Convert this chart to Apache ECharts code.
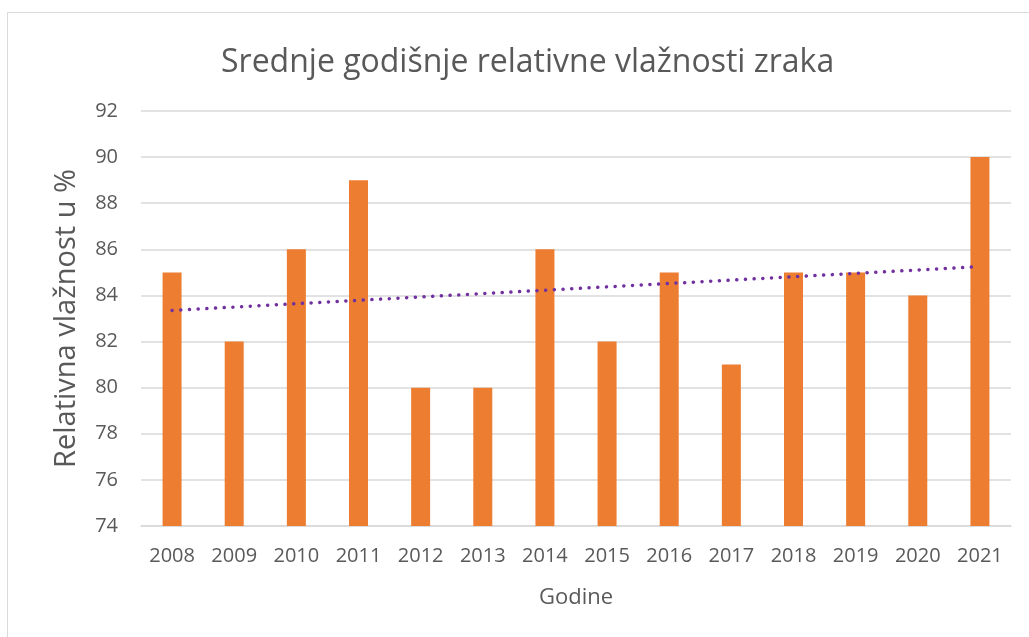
<!DOCTYPE html>
<html>
<head>
<meta charset="utf-8">
<script src="https://cdn.jsdelivr.net/npm/echarts@6/dist/echarts.min.js"></script>
<style>
  html, body { margin: 0; padding: 0; background: #fff; }
  #main { width: 1029px; height: 637px; }
</style>
</head>
<body>
<div id="main"></div>
<script>
// godine i vrijednosti
var years = ['2008', '2009', '2010', '2011', '2012', '2013', '2014', '2015', '2016', '2017', '2018', '2019', '2020', '2021'];
var humidity = [85, 82, 86, 89, 80, 80, 86, 82, 85, 81, 85, 85, 84, 90];
// linija trenda, ocitano sa slike (samo krajnje tocke)
var trend = [83.35, null, null, null, null, null, null, null, null, null, null, null, null, 85.25];

var chart = echarts.init(document.getElementById('main'));

var option = {
  textStyle: { fontFamily: 'Open Sans' },
  graphic: [{
    type: 'rect',
    shape: { x: 7.5, y: 12.5, width: 1040, height: 640 },
    style: { fill: 'none', stroke: '#d9d9d9', lineWidth: 1 },
    silent: true
  }],
  title: {
    text: 'Srednje godišnje relativne vlažnosti zraka',
    left: 216,
    top: 42,
    textStyle: { color: '#595959', fontSize: 32, fontWeight: 'normal', fontFamily: 'Open Sans' }
  },
  grid: { left: 141, right: 18, top: 111, bottom: 111 },
  xAxis: {
    type: 'category',
    data: years,
    name: 'Godine',
    nameLocation: 'middle',
    nameGap: 61,
    nameTextStyle: { color: '#595959', fontSize: 22 },
    axisLine: { lineStyle: { color: '#d9d9d9', width: 1.5 } },
    axisTick: { show: false },
    axisLabel: { color: '#595959', fontSize: 20, margin: 20 }
  },
  yAxis: {
    type: 'value',
    min: 74,
    max: 92,
    interval: 2,
    name: 'Relativna vlažnost u %',
    nameLocation: 'middle',
    nameGap: 60,
    nameTextStyle: { color: '#595959', fontSize: 29 },
    axisLine: { show: false },
    axisTick: { show: false },
    axisLabel: { color: '#595959', fontSize: 20, margin: 23 },
    splitLine: { lineStyle: { color: '#d9d9d9', width: 1.5 } }
  },
  series: [{
    name: 'Relativna vlažnost',
    type: 'bar',
    data: humidity,
    barWidth: 19,
    itemStyle: { color: '#ed7d31' },
    z: 2
  }, {
    name: 'Trend',
    type: 'line',
    data: trend,
    connectNulls: true,
    symbol: 'none',
    lineStyle: { color: '#7030a0', width: 3.5, type: [0.1, 8.6], cap: 'round' },
    z: 3
  }]
};

chart.setOption(option);
</script>
</body>
</html>
